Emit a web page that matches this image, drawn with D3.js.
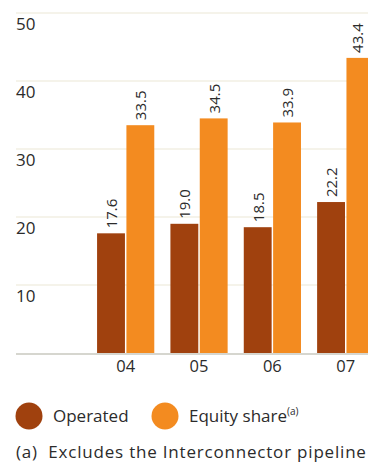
<!DOCTYPE html>
<html>
<head>
<meta charset="utf-8">
<script src="https://cdn.jsdelivr.net/npm/d3@7"></script>
<style>
  body { margin: 0; background: #fff; }
  svg text { font-family: "Open Sans", "Noto Sans", sans-serif; fill: #2b2b2b; }
</style>
</head>
<body>
<div id="chart"></div>
<script>
var years = ['04', '05', '06', '07'];
var operated = [17.6, 19.0, 18.5, 22.2];
var equity = [33.5, 34.5, 33.9, 43.4];
var yTicks = [10, 20, 30, 40, 50];
var seriesNames = ['Operated', 'Equity share'];
var colors = ['#a0410e', '#f38b20'];

var width = 368, height = 462;

var svg = d3.select('#chart').append('svg')
  .attr('width', width)
  .attr('height', height);

var y = d3.scaleLinear().domain([0, 50]).range([353, 13]);

var x = d3.scaleBand()
  .domain(years)
  .range([89, 382.4])
  .paddingInner(0.22)
  .paddingOuter(0.11);

var x1 = d3.scaleBand()
  .domain([0, 1])
  .range([0, x.bandwidth()])
  .paddingInner(0.05);

// gridlines + tick labels
var grid = svg.append('g');
grid.selectAll('line')
  .data(yTicks)
  .enter().append('line')
  .attr('x1', 16).attr('x2', width)
  .attr('y1', function(d) { return y(d); })
  .attr('y2', function(d) { return y(d); })
  .attr('stroke', '#ebe8d6')
  .attr('stroke-width', 1.2);

grid.selectAll('text')
  .data(yTicks)
  .enter().append('text')
  .attr('x', 16)
  .attr('y', function(d) { return y(d) + 17; })
  .attr('font-size', 17)
  .text(function(d) { return d; });

// bars
var data = years.map(function(yr, i) { return [operated[i], equity[i]]; });

var groups = svg.append('g').selectAll('g')
  .data(data)
  .enter().append('g')
  .attr('transform', function(d, i) { return 'translate(' + x(years[i]) + ',0)'; });

groups.selectAll('rect')
  .data(function(d) { return d; })
  .enter().append('rect')
  .attr('x', function(d, k) { return x1(k); })
  .attr('y', function(d) { return y(d); })
  .attr('width', x1.bandwidth())
  .attr('height', function(d) { return y(0) - y(d); })
  .attr('fill', function(d, k) { return colors[k]; });

// value labels, rotated; kept inside the right edge
svg.append('g').selectAll('text')
  .data(d3.merge(data.map(function(d, i) {
    return d.map(function(v, k) { return {v: v, i: i, k: k}; });
  })))
  .enter().append('text')
  .attr('transform', function(d) {
    var tx = Math.min(x(years[d.i]) + x1(d.k) + x1.bandwidth() / 2 + 6, width - 5);
    return 'translate(' + tx + ',' + (y(d.v) - 5) + ') rotate(-90)';
  })
  .attr('font-size', 15)
  .text(function(d) { return d.v.toFixed(1); });

// baseline
svg.append('line')
  .attr('x1', 16).attr('x2', width)
  .attr('y1', y(0) + 1).attr('y2', y(0) + 1)
  .attr('stroke', '#d6d6cf')
  .attr('stroke-width', 2);

// x labels
svg.append('g').selectAll('text')
  .data(years)
  .enter().append('text')
  .attr('x', function(d) { return x(d) + x.bandwidth() / 2; })
  .attr('y', 372)
  .attr('text-anchor', 'middle')
  .attr('font-size', 16.5)
  .text(function(d) { return d; });

// legend
var legendX = [29, 165];
var legend = svg.append('g').selectAll('g')
  .data(seriesNames)
  .enter().append('g')
  .attr('transform', function(d, i) { return 'translate(' + legendX[i] + ',416)'; });

legend.append('circle')
  .attr('r', 13.5)
  .attr('fill', function(d, i) { return colors[i]; });

var lt = legend.append('text')
  .attr('x', 24)
  .attr('y', 6)
  .attr('font-size', 17)
  .text(function(d) { return d; });

lt.filter(function(d, i) { return i === 1; })
  .append('tspan')
  .attr('font-size', 10)
  .attr('dy', -7)
  .text('(a)');

svg.append('text')
  .attr('x', 16)
  .attr('y', 458)
  .attr('font-size', 17)
  .attr('letter-spacing', 0.8)
  .attr('xml:space', 'preserve')
  .text('(a)  Excludes the Interconnector pipeline');
</script>
</body>
</html>
